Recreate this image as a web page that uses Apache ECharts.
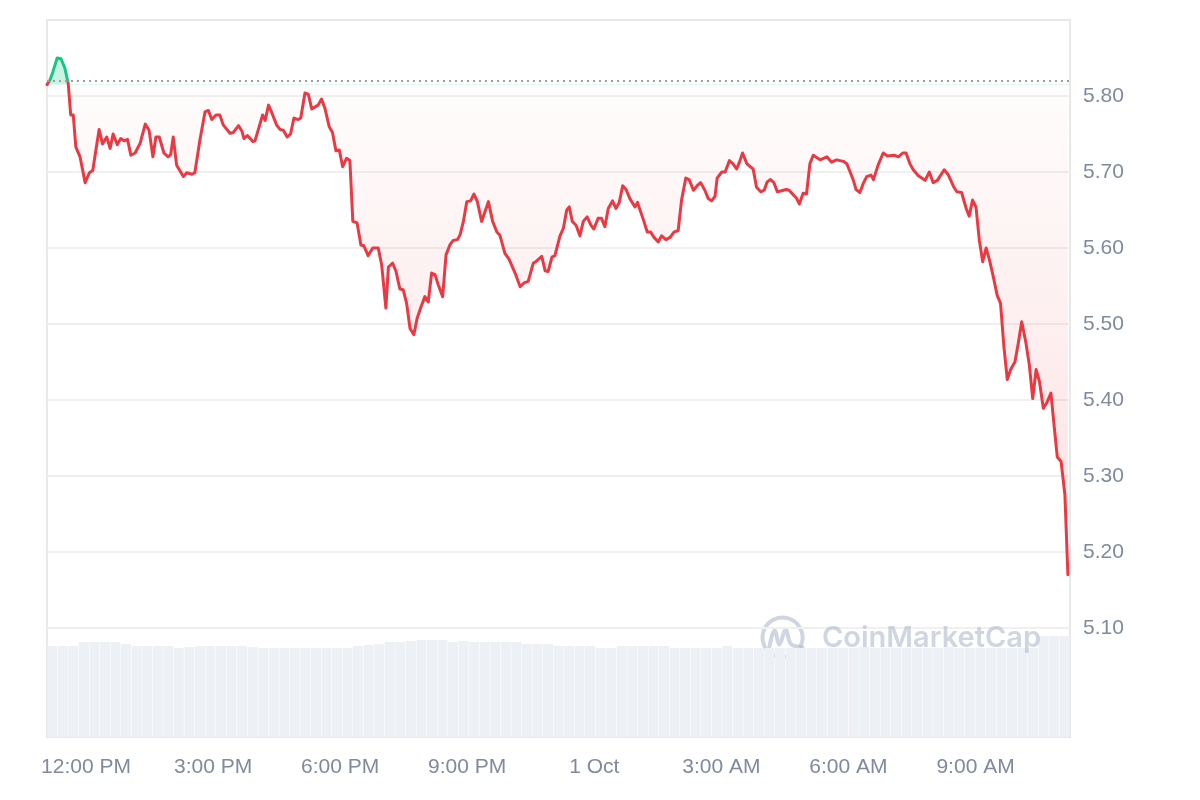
<!DOCTYPE html>
<html>
<head>
<meta charset="utf-8">
<script src="https://cdn.jsdelivr.net/npm/echarts@6/dist/echarts.min.js"></script>
<style>
html,body{margin:0;padding:0;background:#ffffff;}
#chart{width:1200px;height:800px;}
</style>
</head>
<body>
<div id="chart"></div>
<script>
// ---- DATA ----
// time in hours counted from 30 Sep 00:00 (24 = 1 Oct 00:00)
const hours = [
11.08,11.15,11.22,11.32,11.41,11.50,11.58,11.64,11.70,11.76,11.86,11.98,12.08,12.16,12.31,12.39,12.49,12.57,12.64,12.74,
12.82,12.90,12.98,13.06,13.16,13.28,13.40,13.49,13.58,13.65,13.73,13.84,13.94,14.00,14.06,14.14,14.30,14.38,14.50,14.57,
14.69,14.81,14.89,14.97,15.07,15.16,15.24,15.40,15.48,15.60,15.68,15.73,15.81,15.94,15.99,16.17,16.23,16.31,16.38,16.50,
16.58,16.66,16.75,16.83,16.91,17.01,17.07,17.17,17.25,17.33,17.48,17.56,17.64,17.74,17.82,17.90,17.98,18.06,18.15,18.23,
18.30,18.40,18.49,18.56,18.66,18.77,18.90,18.98,19.08,19.14,19.24,19.32,19.41,19.49,19.57,19.65,19.74,19.82,19.90,20.00,
20.08,20.16,20.24,20.32,20.42,20.50,20.59,20.67,20.77,20.83,20.91,20.99,21.08,21.16,21.24,21.34,21.50,21.60,21.70,21.77,
21.89,21.99,22.13,22.25,22.34,22.44,22.56,22.64,22.76,22.84,22.91,23.00,23.07,23.19,23.27,23.35,23.41,23.48,23.57,23.66,
23.74,23.83,23.92,23.99,24.09,24.17,24.25,24.33,24.43,24.51,24.59,24.67,24.75,24.84,24.96,25.02,25.08,25.16,25.25,25.33,
25.41,25.51,25.59,25.69,25.79,25.88,25.98,26.06,26.16,26.24,26.34,26.43,26.51,26.61,26.69,26.77,26.85,26.90,27.01,27.09,
27.19,27.27,27.36,27.42,27.50,27.60,27.68,27.75,27.83,27.93,28.01,28.08,28.16,28.24,28.32,28.40,28.53,28.60,28.68,28.78,
28.84,28.93,29.01,29.09,29.17,29.33,29.49,29.60,29.72,29.88,29.96,30.04,30.11,30.18,30.27,30.35,30.43,30.53,30.59,30.70,
30.82,30.92,31.08,31.18,31.28,31.36,31.45,31.53,31.65,31.81,31.91,32.00,32.10,32.26,32.36,32.48,32.56,32.67,32.78,32.85,
32.93,33.01,33.09,33.17,33.25,33.33,33.42,33.51,33.59,33.67,33.75,33.83,33.93,34.01,34.09,34.19,34.27,34.35,34.43,34.51,
34.60,34.68,34.78,34.85,34.93,35.02,35.11,35.18
];
const prices = [
5.815,5.821,5.832,5.850,5.849,5.837,5.817,5.775,5.775,5.733,5.720,5.686,5.699,5.702,5.756,5.737,5.746,5.731,5.750,5.736,
5.744,5.741,5.743,5.722,5.725,5.738,5.763,5.755,5.720,5.746,5.746,5.725,5.720,5.723,5.746,5.709,5.694,5.699,5.697,5.699,
5.742,5.779,5.781,5.769,5.775,5.775,5.762,5.751,5.752,5.761,5.754,5.744,5.748,5.740,5.741,5.775,5.768,5.788,5.779,5.762,
5.756,5.755,5.746,5.750,5.771,5.769,5.771,5.804,5.802,5.783,5.788,5.796,5.784,5.760,5.752,5.728,5.729,5.707,5.718,5.715,
5.635,5.633,5.604,5.603,5.590,5.600,5.600,5.578,5.521,5.575,5.580,5.569,5.546,5.545,5.527,5.494,5.486,5.508,5.521,5.536,
5.529,5.567,5.565,5.551,5.536,5.591,5.604,5.610,5.611,5.617,5.635,5.661,5.662,5.671,5.661,5.635,5.661,5.635,5.621,5.617,
5.593,5.585,5.567,5.549,5.554,5.556,5.580,5.583,5.589,5.570,5.569,5.588,5.590,5.616,5.626,5.650,5.654,5.635,5.630,5.616,
5.635,5.641,5.630,5.625,5.639,5.639,5.628,5.652,5.662,5.652,5.660,5.682,5.677,5.665,5.654,5.660,5.650,5.637,5.621,5.621,
5.614,5.608,5.616,5.611,5.614,5.621,5.623,5.663,5.692,5.690,5.676,5.682,5.686,5.676,5.665,5.662,5.668,5.692,5.700,5.700,
5.715,5.711,5.704,5.712,5.725,5.711,5.707,5.704,5.680,5.674,5.676,5.687,5.690,5.686,5.674,5.675,5.677,5.676,5.671,5.665,
5.658,5.672,5.671,5.711,5.722,5.716,5.720,5.713,5.716,5.714,5.711,5.700,5.690,5.677,5.673,5.685,5.694,5.696,5.690,5.709,
5.725,5.721,5.722,5.720,5.725,5.725,5.711,5.703,5.695,5.689,5.700,5.686,5.689,5.703,5.696,5.681,5.674,5.673,5.652,5.642,
5.663,5.654,5.610,5.582,5.600,5.584,5.562,5.538,5.527,5.470,5.427,5.440,5.450,5.475,5.503,5.475,5.446,5.402,5.440,5.424,
5.389,5.396,5.409,5.369,5.325,5.319,5.275,5.170
];
// volume bars, 97 equal periods (about 15 minutes each) across the window (relative units)
const volumes = [
91,91,91,95,95,95,95,93,91,91,
91,91,89,90,91,91,91,91,91,90,
89,89,89,89,89,89,89,89,89,91,
92,93,95,95,96,97,97,97,95,96,
95,95,95,95,95,93,93,93,91,91,
91,91,89,89,91,91,91,91,91,89,
89,89,89,89,91,89,89,89,89,89,
89,89,89,89,89,89,89,90,89,89,
89,89,89,89,89,90,89,89,89,89,
89,89,89,89,101,101,101
];
const xMin = 11.08, xMax = 35.23;
const xTickHours = [12, 15, 18, 21, 24, 27, 30, 33];
const xTickLabels = ['12:00 PM', '3:00 PM', '6:00 PM', '9:00 PM', '1 Oct', '3:00 AM', '6:00 AM', '9:00 AM'];
const yMin = 5.0, yMax = 5.9, yStep = 0.1;

// ---- CHART ----
const chart = echarts.init(document.getElementById('chart'), null, {renderer: 'canvas'});
const base = prices[0];
const pMax = Math.max.apply(null, prices), pMin = Math.min.apply(null, prices);
const off = (pMax - base) / (pMax - pMin);
const priceData = hours.map((h, i) => [h, prices[i]]);
const volStep = (xMax - xMin) / volumes.length;
const volumeData = volumes.map((v, i) => [xMin + (i + 0.5) * volStep, v]);
const font = "'Liberation Sans', Arial, Helvetica, sans-serif";
const wm = 'rgba(168,180,200,0.55)';
const GREEN = '#16c784', RED = '#ea3943';

const lineColor = new echarts.graphic.LinearGradient(0, 0, 0, 1, [
  {offset: 0, color: GREEN}, {offset: off, color: GREEN},
  {offset: off, color: RED}, {offset: 1, color: RED}
]);
const areaColor = new echarts.graphic.LinearGradient(0, 0, 0, 1, [
  {offset: 0, color: 'rgba(22,199,132,0.32)'},
  {offset: off, color: 'rgba(22,199,132,0.32)'},
  {offset: off, color: 'rgba(234,57,67,0.02)'},
  {offset: 1, color: 'rgba(234,57,67,0.22)'}
]);

chart.setOption({
  animation: false,
  backgroundColor: '#ffffff',
  grid: [
    {left: 47, right: 130, top: 20, bottom: 96},
    {left: 47, right: 130, top: 20, bottom: 63, show: true, borderColor: '#e8e8e8', borderWidth: 2, backgroundColor: 'transparent'}
  ],
  xAxis: [
    {type: 'value', gridIndex: 0, min: xMin, max: xMax, show: false},
    {type: 'value', gridIndex: 1, min: xMin, max: xMax,
     axisLine: {show: false}, axisTick: {show: false}, splitLine: {show: false},
     axisLabel: {customValues: xTickHours, margin: 20, fontSize: 21, color: '#808a9d', fontFamily: font,
       formatter: function (v) { const k = xTickHours.indexOf(v); return k >= 0 ? xTickLabels[k] : ''; }}}
  ],
  yAxis: [
    {type: 'value', gridIndex: 0, position: 'right', min: yMin, max: yMax, interval: yStep,
     axisLine: {show: false}, axisTick: {show: false},
     axisLabel: {margin: 13, fontSize: 21, color: '#808a9d', fontFamily: font,
       formatter: function (v) { return (v > yMin + 0.05 && v < yMax - 0.05) ? v.toFixed(2) : ''; }},
     splitLine: {show: true, showMinLine: false, showMaxLine: false, lineStyle: {color: '#f0f0f0', width: 2}}},
    {type: 'value', gridIndex: 1, min: 0, max: 717, show: false}
  ],
  series: [
    {type: 'bar', xAxisIndex: 1, yAxisIndex: 1, data: volumeData, barWidth: 10, silent: true,
     itemStyle: {color: '#edf0f4'}},
    {type: 'line', xAxisIndex: 0, yAxisIndex: 0, data: priceData, showSymbol: false, symbol: 'none', silent: true,
     lineStyle: {width: 3, join: 'round', cap: 'round', color: lineColor},
     areaStyle: {origin: base, color: areaColor},
     markLine: {silent: true, symbol: ['none', 'none'], label: {show: false},
       lineStyle: {color: '#9e9e9e', type: [2, 4], width: 2},
       data: [{yAxis: base}]}}
  ],
  graphic: [
    {type: 'group', left: 760, top: 615, silent: true, z: 5, children: [
      {type: 'arc', shape: {cx: 22, cy: 22, r: 20, startAngle: Math.PI / 3, endAngle: Math.PI / 6 + Math.PI * 2, clockwise: true},
       style: {stroke: wm, lineWidth: 4, fill: null}},
      {type: 'polyline', shape: {points: [[9, 31], [14, 15], [19, 29], [25, 14], [30, 28], [36, 31], [42, 32]], smooth: 0.4},
       style: {stroke: wm, lineWidth: 4, fill: null, lineJoin: 'round', lineCap: 'round'}}
    ]},
    {type: 'text', left: 822, top: 624, silent: true, z: 5,
     style: {text: 'CoinMarketCap', fontSize: 29, fontWeight: 600, fontFamily: 'Inter, sans-serif', fill: wm}}
  ]
});
</script>
</body>
</html>
